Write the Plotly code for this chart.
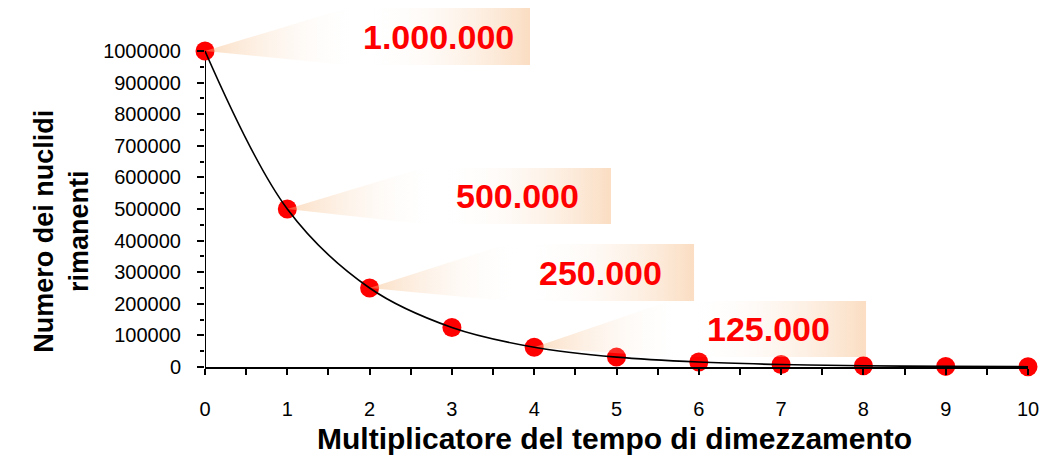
import plotly.graph_objects as go

# Remaining nuclides after each half-life multiple
multipliers = [0, 1, 2, 3, 4, 5, 6, 7, 8, 9, 10]
remaining = [1000000, 500000, 250000, 125000, 62500, 31250, 15625, 7812.5,
             3906.25, 1953.125, 976.5625]

y_ticks = [0, 100000, 200000, 300000, 400000, 500000, 600000, 700000,
           800000, 900000, 1000000]
x_ticks = [0, 1, 2, 3, 4, 5, 6, 7, 8, 9, 10]

# Callout labels: text, index of the point they start from, and box extents
callout_text = ["1.000.000", "500.000", "250.000", "125.000"]
callout_anchor = [0, 1, 2, 4]
callout_left = [1.725, 2.649, 3.670, 5.650]
callout_right = [3.949, 4.933, 5.942, 8.032]
callout_top = [1136000, 629700, 389200, 208900]
callout_bottom = [955700, 452500, 208900, 31600]

FONT = "Liberation Sans, Arial, sans-serif"
PEACH = "rgba(245,180,120,0.45)"
CLEAR = "rgba(255,255,255,0.0)"

fig = go.Figure()

fig.add_trace(go.Scatter(
    x=multipliers, y=remaining, mode="markers",
    marker=dict(size=19, color="#ff0000", line=dict(width=0)),
    cliponaxis=False, showlegend=False, hoverinfo="skip",
))

for txt, idx, lft, rgt, top, bot in zip(callout_text, callout_anchor, callout_left,
                                        callout_right, callout_top, callout_bottom):
    ax, ay = multipliers[idx], remaining[idx]
    white_at = (lft + 0.18 - ax) / (rgt - ax)
    fig.add_trace(go.Scatter(
        x=[ax, lft, rgt, rgt, lft, ax],
        y=[ay, top, top, bot, bot, ay],
        mode="lines", fill="toself", line=dict(width=0),
        fillgradient=dict(type="horizontal",
                          colorscale=[[0, PEACH], [white_at, CLEAR], [1, PEACH]]),
        showlegend=False, hoverinfo="skip",
    ))
    fig.add_annotation(
        x=(lft + rgt) / 2, y=(top + bot) / 2, xref="x", yref="y",
        text=f"<b>{txt}</b>", showarrow=False,
        font=dict(family=FONT, size=34, color="#ff0000"),
        xanchor="center", yanchor="middle",
    )

fig.add_trace(go.Scatter(
    x=multipliers, y=remaining, mode="lines",
    line=dict(color="black", width=1.6, shape="spline", smoothing=1.0),
    showlegend=False, hoverinfo="skip",
))

# Vertical axis line stops at the top tick
fig.add_shape(type="line", xref="x", yref="y", x0=0, x1=0, y0=0, y1=y_ticks[-1],
              line=dict(color="black", width=2), layer="below")

fig.add_annotation(
    x=-0.174, y=0.375, xref="paper", yref="paper",
    text="<b>Numero dei nuclidi<br>rimanenti</b>", textangle=-90,
    showarrow=False, font=dict(family=FONT, size=27, color="black"),
    xanchor="center", yanchor="middle",
)
fig.add_annotation(
    x=0.497, y=-0.196, xref="paper", yref="paper",
    text="<b>Multiplicatore del tempo di dimezzamento</b>",
    showarrow=False, font=dict(family=FONT, size=30, color="black"),
    xanchor="center", yanchor="middle",
)

fig.update_layout(
    width=1058, height=458,
    margin=dict(l=205, r=30, t=4, b=91),
    paper_bgcolor="white", plot_bgcolor="white",
    xaxis=dict(
        range=[0, 10], tickmode="array", tickvals=x_ticks,
        ticks="outside", ticklen=6, tickwidth=1.5, tickcolor="black",
        showline=True, linecolor="black", linewidth=2,
        showgrid=False, zeroline=False,
        tickfont=dict(family=FONT, size=20, color="black"),
        ticklabelstandoff=17,
        minor=dict(dtick=0.5, tick0=0, ticks="outside", ticklen=6,
                   tickwidth=1.5, tickcolor="black", showgrid=False),
    ),
    yaxis=dict(
        range=[0, 1148700], tickmode="array", tickvals=y_ticks,
        tickformat="d",
        ticks="outside", ticklen=7, tickwidth=1.5, tickcolor="black",
        showline=False, showgrid=False, zeroline=False,
        tickfont=dict(family=FONT, size=20, color="black"),
        ticklabelstandoff=12,
        minor=dict(tickmode="array",
                   tickvals=[v + 50000 for v in y_ticks[:-1]],
                   ticks="outside", ticklen=4, tickwidth=1.5,
                   tickcolor="black", showgrid=False),
    ),
)

fig.write_html("out.html")
